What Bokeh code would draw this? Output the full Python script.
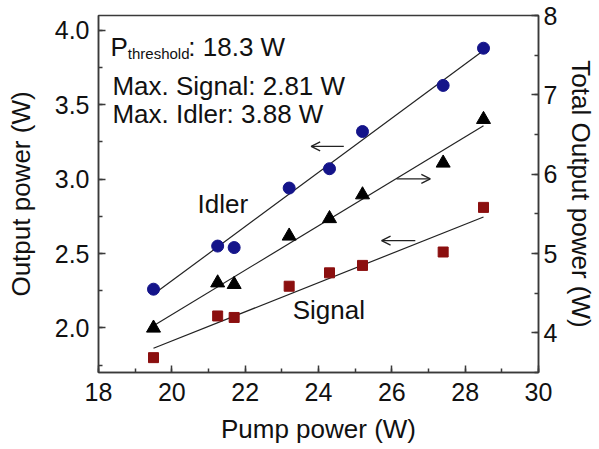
import numpy as np
from bokeh.plotting import figure
from bokeh.models import (Range1d, LinearAxis, SingleIntervalTicker, Arrow,
                          OpenHead, Label, NumeralTickFormatter)
from bokeh.embed import file_html
from bokeh.resources import INLINE

# Measured OPO output versus pump power
pump = [19.5, 21.25, 21.7, 23.2, 24.3, 25.2, 27.4, 28.5]
idler = [2.26, 2.55, 2.54, 2.94, 3.07, 3.32, 3.63, 3.88]
signal = [1.80, 2.08, 2.07, 2.28, 2.37, 2.42, 2.51, 2.81]
total = [4.06, 4.63, 4.61, 5.22, 5.44, 5.74, 6.14, 6.69]

FONT = "Liberation Sans"
AX = "#3a3a3a"

p = figure(width=599, height=449, output_backend="svg", toolbar_location=None,
           x_range=Range1d(18, 30), y_range=Range1d(1.7, 4.1),
           min_border_left=98, min_border_right=0, min_border_top=15,
           min_border_bottom=77)
p.extra_y_ranges = {"total": Range1d(3.5, 8.0)}
p.grid.visible = False
p.outline_line_color = AX
p.outline_line_width = 1.5
p.background_fill_color = "white"
p.border_fill_color = "white"

right = LinearAxis(y_range_name="total")
p.add_layout(right, "right")

p.xaxis.ticker = SingleIntervalTicker(interval=2, num_minor_ticks=2)
p.yaxis[0].ticker = SingleIntervalTicker(interval=0.5, num_minor_ticks=2)
p.yaxis[0].formatter = NumeralTickFormatter(format="0.0")
right.ticker = SingleIntervalTicker(interval=1, num_minor_ticks=2)

p.xaxis.axis_label = "Pump power (W)"
p.yaxis[0].axis_label = "Output power (W)"
right.axis_label = "Total Output power (W)"

for ax in [p.xaxis[0], p.yaxis[0], right]:
    ax.axis_line_color = AX
    ax.axis_line_width = 1.5
    ax.major_tick_line_color = AX
    ax.minor_tick_line_color = AX
    ax.major_tick_line_width = 1.5
    ax.minor_tick_line_width = 1.5
    ax.major_tick_in = 7
    ax.major_tick_out = 0
    ax.minor_tick_in = 4
    ax.minor_tick_out = 0
    ax.major_label_text_font = FONT
    ax.major_label_text_font_size = "25px"
    ax.major_label_text_color = "#111111"
    ax.axis_label_text_font = FONT
    ax.axis_label_text_font_size = "26px"
    ax.axis_label_text_font_style = "normal"
    ax.axis_label_text_color = "#111111"

p.xaxis.major_label_standoff = 10
p.xaxis.axis_label_standoff = 10
p.yaxis[0].major_label_standoff = 9
p.yaxis[0].axis_label_standoff = 16
right.major_label_standoff = 5
right.axis_label_standoff = 6

# Linear fits of each data set across the measured pump range
xs = np.array([min(pump), max(pump)])
for ys, rng in [(idler, "default"), (signal, "default"), (total, "total")]:
    k, b = np.polyfit(pump, ys, 1)
    p.line(xs, k * xs + b, line_color="#222222", line_width=1.2, y_range_name=rng)

p.scatter(pump, idler, marker="circle", size=12, fill_color="#14148a",
          line_color="#14148a")
p.scatter(pump, signal, marker="square", size=10, fill_color="#8b0f0f",
          line_color="#8b0f0f")
p.scatter(pump, total, marker="triangle", size=14, fill_color="black",
          line_color="black", y_range_name="total")

# Arrows showing which axis each curve belongs to
def arrow(x0, x1, y, rng="default"):
    p.add_layout(Arrow(x_start=x0, y_start=y, x_end=x1, y_end=y,
                       y_range_name=rng, line_color="#222222", line_width=1.3,
                       end=OpenHead(size=9, line_color="#222222", line_width=1.3)))

arrow(24.69, 23.80, 3.22)
arrow(26.13, 27.05, 5.94, "total")
arrow(26.64, 25.72, 2.587)

def label(x, y, text, size="26px", align="left", baseline="alphabetic"):
    p.add_layout(Label(x=x, y=y, text=text, text_font=FONT, text_font_size=size,
                       text_color="#111111", text_align=align,
                       text_baseline=baseline))

label(18.33, 3.885, "P")
label(18.80, 3.845, "threshold", size="15px")
label(20.45, 3.885, ": 18.3 W")
label(18.38, 3.629, "Max. Signal: 2.81 W")
label(18.38, 3.441, "Max. Idler: 3.88 W")
label(21.39, 2.836, "Idler", align="center", baseline="middle")
label(24.28, 2.117, "Signal", align="center", baseline="middle")

open("out.html", "w").write(file_html(p, INLINE))
